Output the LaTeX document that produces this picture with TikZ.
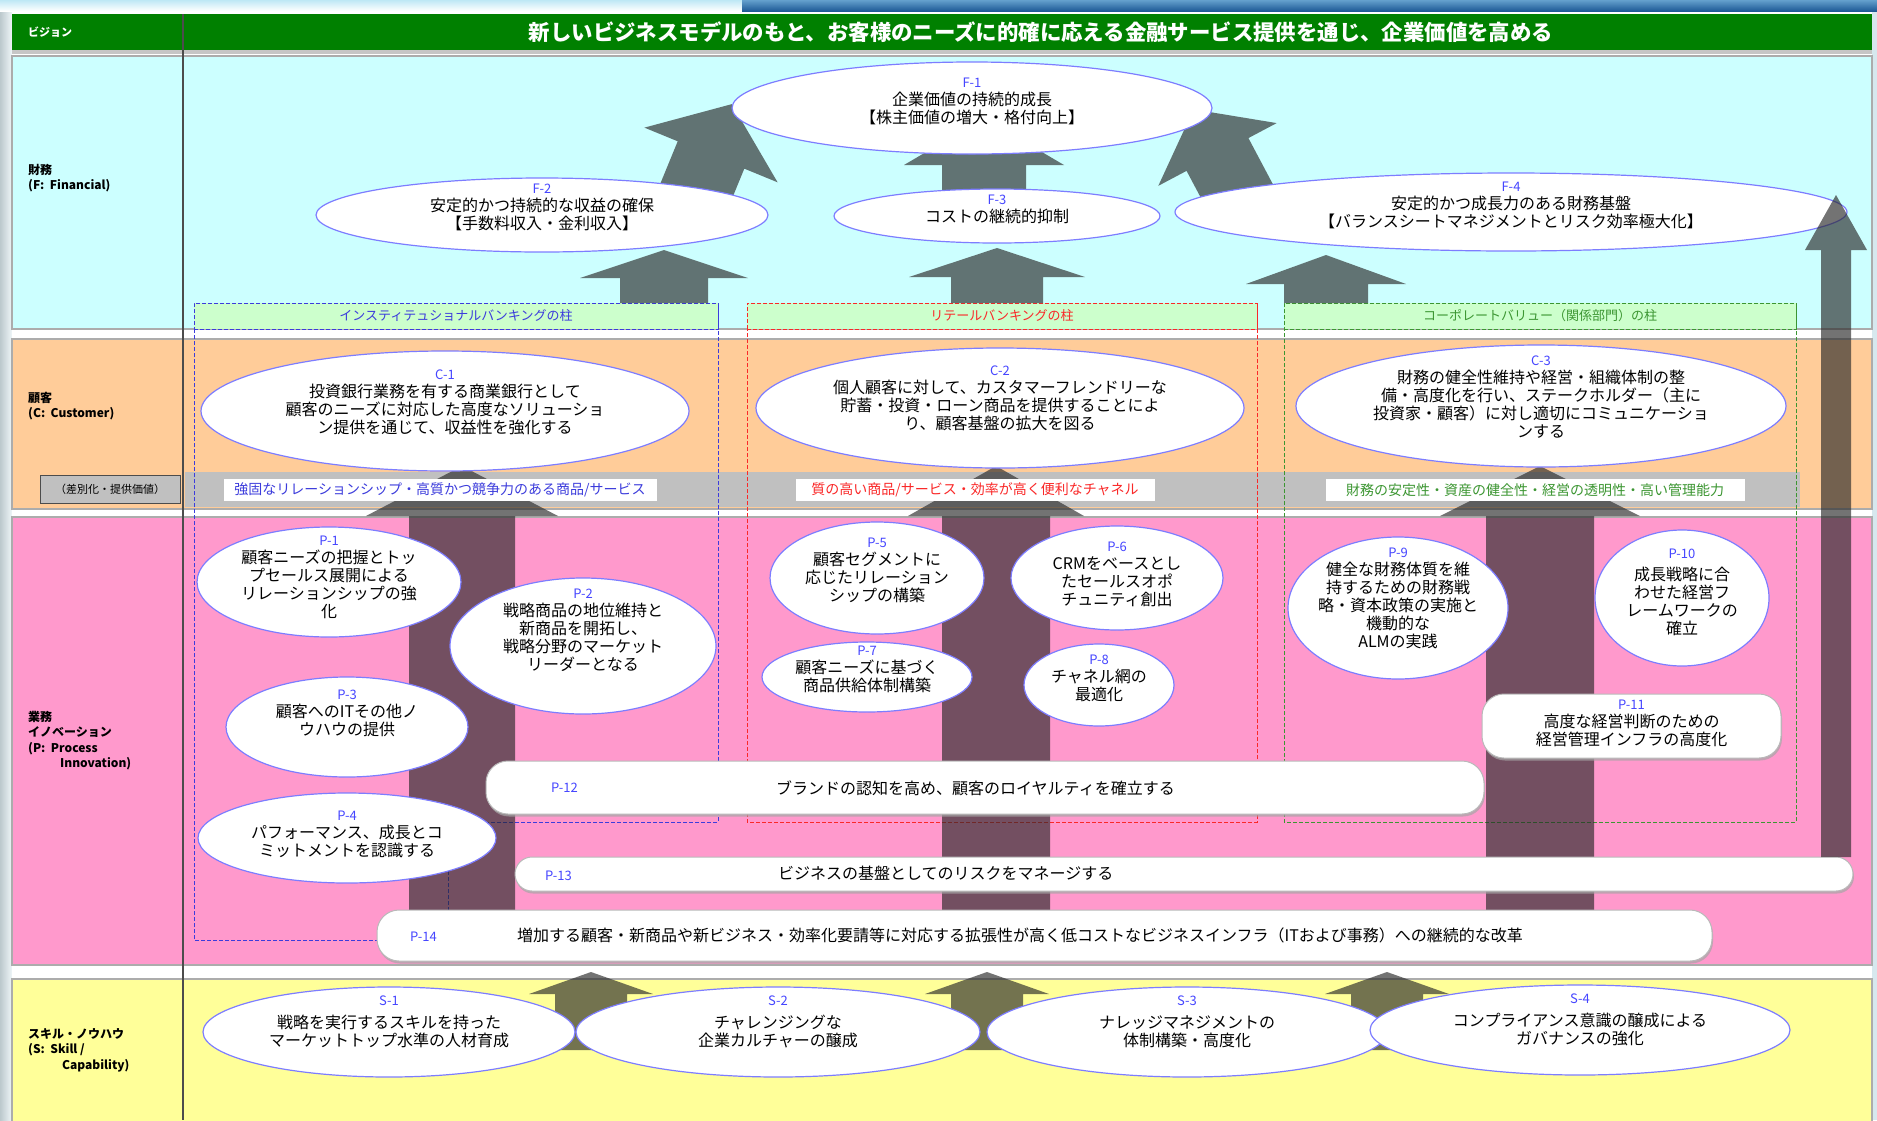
\documentclass[tikz,border=0pt]{standalone}
\usepackage{fontspec}
\setmainfont{Noto Sans CJK JP}
\usetikzlibrary{calc,shapes.geometric,shadows}
\definecolor{pagebg}{RGB}{214,232,238}
\definecolor{cyanbg}{RGB}{204,255,255}
\definecolor{orgbg}{RGB}{255,204,153}
\definecolor{pinkbg}{RGB}{255,153,204}
\definecolor{yelbg}{RGB}{255,255,153}
\definecolor{visgreen}{RGB}{0,128,0}
\definecolor{elbord}{RGB}{125,125,255}
\definecolor{lablue}{RGB}{70,70,255}
\definecolor{pilblue}{RGB}{60,60,220}
\definecolor{pilred}{RGB}{250,40,40}
\definecolor{pilgreen}{RGB}{60,150,50}
\definecolor{hdrgreen}{RGB}{204,255,204}
\definecolor{bandgray}{RGB}{192,192,192}
\definecolor{arrowdk}{RGB}{40,40,40}
\tikzset{
  ebox/.style={ellipse, draw=elbord, line width=1.2pt, fill=white, inner sep=0pt},
  etext/.style={align=center, font=\fontsize{16}{18}\selectfont, inner sep=0pt},
  pill/.style={rectangle, rounded corners=22pt, draw=gray!55, fill=white, line width=1pt, inner sep=0pt,
    drop shadow={shadow xshift=1pt, shadow yshift=-2.5pt, fill=gray!70, opacity=0.7}},
  bigarrow/.style={fill=arrowdk, fill opacity=0.65},
  rowbg/.style={draw=gray!65, line width=1.2pt},
  rowlabel/.style={anchor=north west, align=left, inner sep=0pt, font=\bfseries\fontsize{12}{15.5}\selectfont},
  pilbox/.style={draw=#1, dash pattern=on 4pt off 2pt, line width=1pt},
  hdr/.style={fill=hdrgreen, draw=#1, dash pattern=on 4pt off 2pt, line width=1pt, text=#1, inner sep=0pt,
    font=\fontsize{13}{15}\selectfont},
  bandtxt/.style={fill=white, inner sep=0pt, minimum height=22pt, font=\fontsize{14}{16}\selectfont},
}
\newcommand{\plab}[1]{{\color{lablue}\fontsize{13}{15}\selectfont #1}}
\newcommand{\myblockarrow}[5]{%
  \coordinate (ba-hb) at ($(#2)!#5!(#1)$);
  \fill[bigarrow] (#2) -- ($(ba-hb)!#4!90:(#2)$) -- ($(ba-hb)!#3!90:(#2)$)
    -- ($(#1)!#3!90:(#2)$) -- ($(#1)!#3!-90:(#2)$) -- ($(ba-hb)!#3!-90:(#2)$)
    -- ($(ba-hb)!#4!-90:(#2)$) -- cycle;}
\begin{document}
\begin{tikzpicture}[x=1pt,y=-1pt]
\useasboundingbox (0,0) rectangle (1877,1120);
% page background and top strip
\fill[pagebg] (0,0) rectangle (1877,1120);
\shade[left color=pagebg!70!gray, right color=pagebg!40] (0,11) rectangle (12,1120);
\shade[top color={rgb,255:red,190;green,232;blue,245}, bottom color=white] (0,0) rectangle (742,11);
\shade[top color={rgb,255:red,100;green,160;blue,205}, bottom color={rgb,255:red,30;green,90;blue,150}] (742,0) rectangle (1877,11);
\fill[white] (12,12) rectangle (1872,1120);
% vision bar
\fill[visgreen] (12,14) rectangle (1872,50);
\fill[gray!45] (12,50) rectangle (1872,54);
\node[anchor=west, text=white, inner sep=0pt, font=\bfseries\fontsize{11}{13}\selectfont] (vlab) at (28,32) {ビジョン};
\node[text=white, inner sep=0pt, font=\bfseries\fontsize{21.4}{23}\selectfont] (vision) at (1041,32)
  {新しいビジネスモデルのもと、お客様のニーズに的確に応える金融サービス提供を通じ、企業価値を高める};
% rows
\fill[cyanbg, rowbg] (12,56) rectangle (1872,329);
\fill[orgbg, rowbg] (12,339) rectangle (1872,509);
\fill[pinkbg, rowbg] (12,517) rectangle (1872,965);
\fill[yelbg, rowbg] (12,979) rectangle (1872,1126);
% gray band
\fill[bandgray] (185,472) rectangle (1800,507);
\node[fill=bandgray, draw=gray!60!black, line width=0.6pt, minimum width=140pt, minimum height=28pt, inner sep=0pt,
  font=\fontsize{11}{13}\selectfont] (diff) at (110,489.5) {（差別化・提供価値）};
% divider
\draw[line width=1.3pt, black!70] (183,14) -- (183,1120);
% row labels
\node[rowlabel] (lf) at (28,164) {財務\\(F:\ \ Financial)};
\node[rowlabel] (lc) at (28,392) {顧客\\(C:\ \ Customer)};
\node[rowlabel] (lp) at (28,711) {業務\\イノベーション\\(P:\ \ Process\\\hspace*{32pt}Innovation)};
\node[rowlabel] (ls) at (28,1028) {スキル・ノウハウ\\(S:\ \ Skill /\\\hspace*{34pt}Capability)};
% pillar boxes
\draw[pilbox=pilblue] (194,303) -- (718,303) -- (718,822) -- (448,822) -- (448,940) -- (194,940) -- cycle;
\draw[pilbox=pilred] (747,303) rectangle (1257,822);
\draw[pilbox=pilgreen] (1284,303) rectangle (1796,822);
\node[hdr=pilblue, minimum width=524pt, minimum height=26pt] (h1) at (456,316) {インスティテュショナルバンキングの柱};
\node[hdr=pilred, minimum width=510pt, minimum height=26pt] (h2) at (1002,316) {リテールバンキングの柱};
\node[hdr=pilgreen, minimum width=512pt, minimum height=26pt] (h3) at (1540,316) {コーポレートバリュー（関係部門）の柱};
% big arrows
\coordinate (a1t) at (688.2,210.5); \coordinate (a1a) at (731.9,104.1);
\myblockarrow{a1t}{a1a}{36pt}{72pt}{55pt}
\coordinate (a2t) at (1245.6,207.5); \coordinate (a2a) at (1193.6,109.4);
\myblockarrow{a2t}{a2a}{35pt}{67pt}{51pt}
\coordinate (a3t) at (984,215); \coordinate (a3a) at (984,118);
\myblockarrow{a3t}{a3a}{42pt}{80pt}{47pt}
\coordinate (b1t) at (664,303); \coordinate (b1a) at (664,250);
\myblockarrow{b1t}{b1a}{44pt}{84pt}{28pt}
\coordinate (b2t) at (997,303); \coordinate (b2a) at (997,248);
\myblockarrow{b2t}{b2a}{46pt}{88pt}{29pt}
\coordinate (b3t) at (1326,303); \coordinate (b3a) at (1326,255);
\myblockarrow{b3t}{b3a}{42pt}{80pt}{29pt}
\coordinate (c1t) at (462,945); \coordinate (c1a) at (462,466);
\myblockarrow{c1t}{c1a}{53pt}{96pt}{50pt}
\coordinate (c2t) at (996,945); \coordinate (c2a) at (996,466);
\myblockarrow{c2t}{c2a}{54pt}{88pt}{50pt}
\coordinate (c3t) at (1540,945); \coordinate (c3a) at (1540,466);
\myblockarrow{c3t}{c3a}{54pt}{100pt}{50pt}
\coordinate (s1t) at (591,1050); \coordinate (s1a) at (591,972);
\myblockarrow{s1t}{s1a}{36pt}{62pt}{22pt}
\coordinate (s2t) at (987,1050); \coordinate (s2a) at (987,972);
\myblockarrow{s2t}{s2a}{36pt}{62pt}{22pt}
\coordinate (s3t) at (1387,1050); \coordinate (s3a) at (1387,972);
\myblockarrow{s3t}{s3a}{36pt}{62pt}{22pt}
% band texts
\node[bandtxt, text=pilblue, minimum width=433pt] (bt1) at (440,490) {強固なリレーションシップ・高質かつ競争力のある商品/サービス};
\node[bandtxt, text=pilred, minimum width=359pt] (bt2) at (975,490) {質の高い商品/サービス・効率が高く便利なチャネル};
\node[bandtxt, text=pilgreen, minimum width=419pt] (bt3) at (1535,490) {財務の安定性・資産の健全性・経営の透明性・高い管理能力};
% F ellipses
\node[ebox, minimum width=480pt, minimum height=92pt] (f1) at (972,108) {};
\node[ebox, minimum width=452pt, minimum height=74pt] (f2) at (542,215) {};
\node[ebox, minimum width=326pt, minimum height=54pt] (f3) at (997,216) {};
\node[ebox, minimum width=672pt, minimum height=78pt] (f4) at (1511,212) {};
\node[etext] (f1x) at (972,101) {\plab{F-1}\\企業価値の持続的成長\\【株主価値の増大・格付向上】};
\node[etext] (f2x) at (542,207) {\plab{F-2}\\安定的かつ持続的な収益の確保\\【手数料収入・金利収入】};
\node[etext] (f3x) at (997,209) {\plab{F-3}\\コストの継続的抑制};
\node[etext] (f4x) at (1511,205) {\plab{F-4}\\安定的かつ成長力のある財務基盤\\【バランスシートマネジメントとリスク効率極大化】};
% C ellipses
\node[ebox, minimum width=488pt, minimum height=120pt] (c1) at (445,411) {};
\node[ebox, minimum width=488pt, minimum height=120pt] (c2) at (1000,408) {};
\node[ebox, minimum width=490pt, minimum height=122pt] (c3) at (1541,406) {};
\node[etext] (c1x) at (445,402) {\plab{C-1}\\投資銀行業務を有する商業銀行として\\顧客のニーズに対応した高度なソリューショ\\ン提供を通じて、収益性を強化する};
\node[etext] (c2x) at (1000,398) {\plab{C-2}\\個人顧客に対して、カスタマーフレンドリーな\\貯蓄・投資・ローン商品を提供することによ\\り、顧客基盤の拡大を図る};
\node[etext] (c3x) at (1541,397) {\plab{C-3}\\財務の健全性維持や経営・組織体制の整\\備・高度化を行い、ステークホルダー（主に\\投資家・顧客）に対し適切にコミュニケーショ\\ンする};
% P ellipses
\node[ebox, minimum width=264pt, minimum height=110pt] (p1) at (329,582) {};
\node[ebox, minimum width=266pt, minimum height=136pt] (p2) at (583,646) {};
\node[ebox, minimum width=242pt, minimum height=100pt] (p3) at (347,727) {};
\node[ebox, minimum width=298pt, minimum height=90pt] (p4) at (347,838) {};
\node[ebox, minimum width=214pt, minimum height=112pt] (p5) at (877,578) {};
\node[ebox, minimum width=212pt, minimum height=104pt] (p6) at (1117,578) {};
\node[ebox, minimum width=210pt, minimum height=70pt] (p7) at (867,677) {};
\node[ebox, minimum width=150pt, minimum height=82pt] (p8) at (1099,685) {};
\node[ebox, minimum width=220pt, minimum height=142pt] (p9) at (1398,608) {};
\node[ebox, minimum width=174pt, minimum height=136pt] (p10) at (1682,598) {};
\node[etext] (p1x) at (329,577) {\plab{P-1}\\顧客ニーズの把握とトッ\\プセールス展開による\\リレーションシップの強\\化};
\node[etext] (p2x) at (583,630) {\plab{P-2}\\戦略商品の地位維持と\\新商品を開拓し、\\戦略分野のマーケット\\リーダーとなる};
\node[etext] (p3x) at (347,713) {\plab{P-3}\\顧客へのITその他ノ\\ウハウの提供};
\node[etext] (p4x) at (347,834) {\plab{P-4}\\パフォーマンス、成長とコ\\ミットメントを認識する};
\node[etext] (p5x) at (877,570) {\plab{P-5}\\顧客セグメントに\\応じたリレーション\\シップの構築};
\node[etext] (p6x) at (1117,574) {\plab{P-6}\\CRMをベースとし\\たセールスオポ\\チュニティ創出};
\node[etext] (p7x) at (867,669) {\plab{P-7}\\顧客ニーズに基づく\\商品供給体制構築};
\node[etext] (p8x) at (1099,678) {\plab{P-8}\\チャネル網の\\最適化};
\node[etext] (p9x) at (1398,598) {\plab{P-9}\\健全な財務体質を維\\持するための財務戦\\略・資本政策の実施と\\機動的な\\ALMの実践};
\node[etext] (p10x) at (1682,592) {\plab{P-10}\\[4pt]成長戦略に合\\わせた経営フ\\レームワークの\\確立};
% pills
\node[pill, minimum width=299pt, minimum height=64pt] (p11) at (1631.5,726) {};
\node[etext] (p11x) at (1631.5,723) {\plab{P-11}\\高度な経営判断のための\\経営管理インフラの高度化};
\node[pill, minimum width=998pt, minimum height=53pt] (p12) at (985,787.5) {};
\node[inner sep=0pt, anchor=west] (p12l) at (551,788) {\plab{P-12}};
\node[etext, anchor=west] (p12x) at (776,788) {ブランドの認知を高め、顧客のロイヤルティを確立する};
\node[pill, rounded corners=17pt, minimum width=1338pt, minimum height=34pt] (p13) at (1184,874) {};
\node[inner sep=0pt, anchor=west] (p13l) at (545,876) {\plab{P-13}};
\node[etext, anchor=west] (p13x) at (778,873) {ビジネスの基盤としてのリスクをマネージする};
\node[pill, minimum width=1335pt, minimum height=51pt] (p14) at (1044.5,935.5) {};
\node[inner sep=0pt, anchor=west] (p14l) at (410,937) {\plab{P-14}};
\node[etext, anchor=west] (p14x) at (517,935) {増加する顧客・新商品や新ビジネス・効率化要請等に対応する拡張性が高く低コストなビジネスインフラ（ITおよび事務）への継続的な改革};
% S ellipses
\node[ebox, minimum width=372pt, minimum height=90pt] (s1) at (389,1032) {};
\node[ebox, minimum width=404pt, minimum height=90pt] (s2) at (778,1032) {};
\node[ebox, minimum width=400pt, minimum height=90pt] (s3) at (1187,1032) {};
\node[ebox, minimum width=420pt, minimum height=90pt] (s4) at (1580,1030) {};
\node[etext] (s1x) at (389,1022) {\plab{S-1}\\[5pt]戦略を実行するスキルを持った\\マーケットトップ水準の人材育成};
\node[etext] (s2x) at (778,1022) {\plab{S-2}\\[5pt]チャレンジングな\\企業カルチャーの醸成};
\node[etext] (s3x) at (1187,1022) {\plab{S-3}\\[5pt]ナレッジマネジメントの\\体制構築・高度化};
\node[etext] (s4x) at (1580,1020) {\plab{S-4}\\[5pt]コンプライアンス意識の醸成による\\ガバナンスの強化};
% tall right arrow (drawn over F-4)
\coordinate (tallt) at (1836,857); \coordinate (talla) at (1836,195);
\myblockarrow{tallt}{talla}{15pt}{31pt}{55pt}
\end{tikzpicture}
\end{document}
